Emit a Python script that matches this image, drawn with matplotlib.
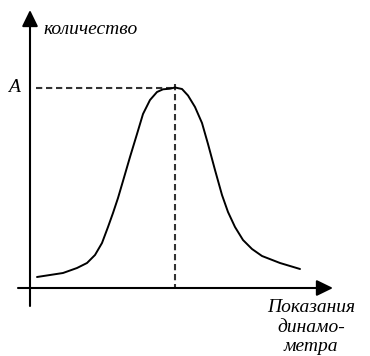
import matplotlib.pyplot as plt

# точки кривой (показания динамометра, количество)
x_vals = [7, 20, 33, 47, 57, 65, 72, 78, 83, 88, 93, 100, 107, 113, 120,
          127, 133, 140, 145, 152, 158, 165, 172, 178, 185, 192, 198, 205,
          213, 222, 232, 250, 270]
y_vals = [11, 13, 15, 20, 25, 33, 45, 61, 75, 90, 107, 131, 154, 174, 188,
          196, 198.7, 199.3, 200.5, 199, 192.5, 181, 165, 144, 118, 93, 76,
          61, 48, 39, 32, 25, 19]

peak_x = 145
peak_y = 200

fig = plt.figure(figsize=(3.7, 3.56), dpi=100)
ax = fig.add_axes([0, 0, 1, 1])
ax.set_xlim(-30, 340)
ax.set_ylim(-68, 288)
ax.axis('off')

serif = ['Liberation Serif', 'DejaVu Serif']
arrow = dict(arrowstyle='-|>,head_length=0.45,head_width=0.22',
             mutation_scale=22, lw=1.5, color='black',
             shrinkA=0, shrinkB=0)

# оси
ax.annotate('', xy=(0, 278), xytext=(0, -18), arrowprops=arrow)
ax.annotate('', xy=(303, 0), xytext=(-12, 0), arrowprops=arrow)

# пунктир к максимуму
ax.plot([6, peak_x], [peak_y, peak_y], color='#333333', lw=1.5,
        dashes=(3, 1.8))
ax.plot([peak_x, peak_x], [peak_y + 4, 0], color='#333333', lw=1.5,
        dashes=(3, 1.8))

ax.plot(x_vals, y_vals, color='black', lw=1.4, solid_capstyle='round',
        solid_joinstyle='round')

ax.text(13, 258, 'количество', family=serif, style='italic', fontsize=14,
        ha='left', va='center')
ax.text(-16, 200, 'A', family=serif, style='italic', fontsize=14,
        ha='center', va='center')
ax.text(281, -39, 'Показания\nдинамо-\nметра', family=serif, style='italic',
        fontsize=14, ha='center', va='center', linespacing=1.18)

fig.savefig('out.png', dpi=100)
